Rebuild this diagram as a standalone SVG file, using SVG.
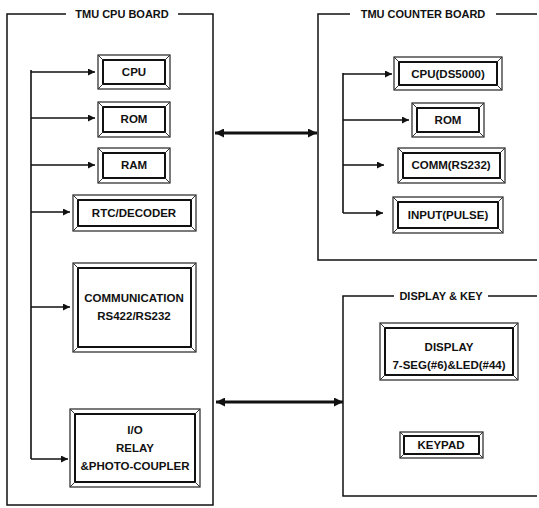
<svg xmlns="http://www.w3.org/2000/svg" width="539" height="508" viewBox="0 0 539 508">
<style>
.frame{fill:none;stroke:#111;stroke-width:1.5}
.bo{fill:#fff;stroke:#222;stroke-width:1.2}
.bi{fill:none;stroke:#111;stroke-width:2}
.bd{stroke:#333;stroke-width:1}
.t{font-family:"Liberation Sans",Arial,sans-serif;font-weight:bold;font-size:11.5px;fill:#111;text-anchor:middle}
.tt{font-family:"Liberation Sans",Arial,sans-serif;font-weight:bold;font-size:11px;fill:#111;text-anchor:middle}
.w{fill:none;stroke:#111;stroke-width:1.6}
.ww{fill:none;stroke:#111;stroke-width:3.2}
</style>
<defs>
<marker id="ah" viewBox="0 0 10 10" refX="10" refY="5" markerWidth="8" markerHeight="7" markerUnits="userSpaceOnUse" orient="auto">
<path d="M0,0 L10,5 L0,10 Z" fill="#111"/>
</marker>
<marker id="ahb" viewBox="0 0 10 10" refX="10" refY="5" markerWidth="12" markerHeight="9" markerUnits="userSpaceOnUse" orient="auto-start-reverse">
<path d="M0,0 L10,5 L0,10 Z" fill="#111"/>
</marker>
</defs>

<g id="cpu-board">
<path class="frame" d="M66,14 H7 V505 H213 V14 H178"/>
<text class="tt" x="122" y="18">TMU CPU BOARD</text>
</g>
<g id="counter-board">
<path class="frame" d="M350,14 H318 V260 H537 M537,14 H496"/>
<text class="tt" x="423" y="18">TMU COUNTER BOARD</text>
</g>
<g id="display-key">
<path class="frame" d="M394,296 H343 V496 H537 M537,296 H488"/>
<text class="tt" x="441" y="300">DISPLAY &amp; KEY</text>
</g>

<g id="cpu">
<rect class="bo" x="98" y="55" width="72" height="34"/>
<rect class="bi" x="103" y="60" width="62" height="24"/>
<path class="bd" d="M98,55 L103,60 M170,55 L165,60 M98,89 L103,84 M170,89 L165,84"/>
<text class="t" x="134" y="76">CPU</text>
</g>
<g id="rom">
<rect class="bo" x="98" y="102" width="72" height="35"/>
<rect class="bi" x="103" y="107" width="62" height="25"/>
<path class="bd" d="M98,102 L103,107 M170,102 L165,107 M98,137 L103,132 M170,137 L165,132"/>
<text class="t" x="134" y="123">ROM</text>
</g>
<g id="ram">
<rect class="bo" x="98" y="148" width="72" height="35"/>
<rect class="bi" x="103" y="153" width="62" height="25"/>
<path class="bd" d="M98,148 L103,153 M170,148 L165,153 M98,183 L103,178 M170,183 L165,178"/>
<text class="t" x="134" y="169">RAM</text>
</g>
<g id="rtc">
<rect class="bo" x="73" y="195" width="123" height="36"/>
<rect class="bi" x="78" y="200" width="113" height="26"/>
<path class="bd" d="M73,195 L78,200 M196,195 L191,200 M73,231 L78,226 M196,231 L191,226"/>
<text class="t" x="134" y="217">RTC/DECODER</text>
</g>
<g id="comm">
<rect class="bo" x="73" y="263" width="123" height="89"/>
<rect class="bi" x="78" y="268" width="113" height="79"/>
<path class="bd" d="M73,263 L78,268 M196,263 L191,268 M73,352 L78,347 M196,352 L191,347"/>
<text class="t" x="134" y="302">COMMUNICATION</text>
<text class="t" x="134" y="320">RS422/RS232</text>
</g>
<g id="io">
<rect class="bo" x="70" y="409" width="130" height="78"/>
<rect class="bi" x="75" y="414" width="120" height="68"/>
<path class="bd" d="M70,409 L75,414 M200,409 L195,414 M70,487 L75,482 M200,487 L195,482"/>
<text class="t" x="135" y="434">I/O</text>
<text class="t" x="135" y="452">RELAY</text>
<text class="t" x="135" y="470">&amp;PHOTO-COUPLER</text>
</g>

<g id="cpu-ds5000">
<rect class="bo" x="394" y="57" width="108" height="33"/>
<rect class="bi" x="399" y="62" width="98" height="23"/>
<path class="bd" d="M394,57 L399,62 M502,57 L497,62 M394,90 L399,85 M502,90 L497,85"/>
<text class="t" x="448" y="78">CPU(DS5000)</text>
</g>
<g id="rom2">
<rect class="bo" x="412" y="103" width="72" height="34"/>
<rect class="bi" x="417" y="108" width="62" height="24"/>
<path class="bd" d="M412,103 L417,108 M484,103 L479,108 M412,137 L417,132 M484,137 L479,132"/>
<text class="t" x="448" y="124">ROM</text>
</g>
<g id="comm-rs232">
<rect class="bo" x="398" y="148" width="107" height="35"/>
<rect class="bi" x="403" y="153" width="97" height="25"/>
<path class="bd" d="M398,148 L403,153 M505,148 L500,153 M398,183 L403,178 M505,183 L500,178"/>
<text class="t" x="451" y="169">COMM(RS232)</text>
</g>
<g id="input">
<rect class="bo" x="393" y="197" width="110" height="36"/>
<rect class="bi" x="398" y="202" width="100" height="26"/>
<path class="bd" d="M393,197 L398,202 M503,197 L498,202 M393,233 L398,228 M503,233 L498,228"/>
<text class="t" x="448" y="219">INPUT(PULSE)</text>
</g>

<g id="display">
<rect class="bo" x="380" y="323" width="138" height="57"/>
<rect class="bi" x="385" y="328" width="128" height="47"/>
<path class="bd" d="M380,323 L385,328 M518,323 L513,328 M380,380 L385,375 M518,380 L513,375"/>
<text class="t" x="449" y="351">DISPLAY</text>
<text class="t" x="449" y="369">7-SEG(#6)&amp;LED(#44)</text>
</g>
<g id="keypad">
<rect class="bo" x="400" y="432" width="83" height="26"/>
<rect class="bi" x="404" y="436" width="75" height="18"/>
<path class="bd" d="M400,432 L404,436 M483,432 L479,436 M400,458 L404,454 M483,458 L479,454"/>
<text class="t" x="441" y="449">KEYPAD</text>
</g>

<g id="connectors">
<path class="w" d="M31,70 V459"/>
<path class="w" d="M31,72 H95" marker-end="url(#ah)"/>
<path class="w" d="M31,118 H95" marker-end="url(#ah)"/>
<path class="w" d="M31,165 H95" marker-end="url(#ah)"/>
<path class="w" d="M31,212 H70" marker-end="url(#ah)"/>
<path class="w" d="M31,307 H70" marker-end="url(#ah)"/>
<path class="w" d="M31,459 H68" marker-end="url(#ah)"/>
<path class="w" d="M343,73 V213"/>
<path class="w" d="M343,74 H392" marker-end="url(#ah)"/>
<path class="w" d="M343,120 H409" marker-end="url(#ah)"/>
<path class="w" d="M343,165 H384" marker-end="url(#ah)"/>
<path class="w" d="M343,213 H383" marker-end="url(#ah)"/>
<path class="ww" d="M215,133 H317" marker-start="url(#ahb)" marker-end="url(#ahb)"/>
<path class="ww" d="M216,402 H343" marker-start="url(#ahb)" marker-end="url(#ahb)"/>
</g>
</svg>
